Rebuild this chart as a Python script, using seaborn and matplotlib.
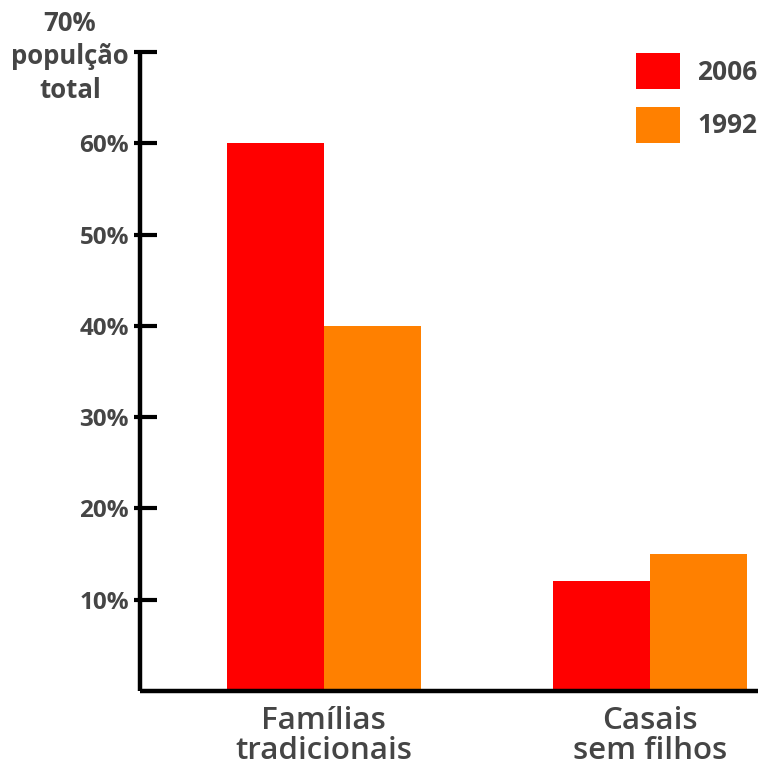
import matplotlib
matplotlib.use("Agg")
import matplotlib.pyplot as plt
import seaborn as sns
import pandas as pd

categories = ["Famílias\ntradicionais", "Casais\nsem filhos"]
years = ["2006", "1992"]
values_2006 = [60, 12]
values_1992 = [40, 15]
ytick_values = [10, 20, 30, 40, 50, 60, 70]
ytick_labels = ["10%", "20%", "30%", "40%", "50%", "60%", ""]
axis_title = "70%\npopulção\ntotal"

palette = {"2006": "#FF0000", "1992": "#FF8000"}
text_color = "#454545"

df = pd.DataFrame({
    "categoria": categories * 2,
    "ano": [years[0]] * len(categories) + [years[1]] * len(categories),
    "valor": values_2006 + values_1992,
})

sns.set_theme(style="white")
plt.rcParams["font.family"] = ["Open Sans", "DejaVu Sans"]

W, H = 760, 765
fig = plt.figure(figsize=(W / 100, H / 100), dpi=100)
ax = fig.add_axes([140 / W, 1 - 691 / H, (758 - 140) / W, (691 - 52) / H])

sns.barplot(data=df, x="categoria", y="valor", hue="ano", order=categories,
            hue_order=years, palette=palette, width=0.595, saturation=1,
            edgecolor="none", linewidth=0, ax=ax)

ax.set_xlim(-0.564, 1.331)
ax.set_ylim(0, 70)
ax.set_xlabel("")
ax.set_ylabel("")

for side in ["top", "right"]:
    ax.spines[side].set_visible(False)
for side in ["left", "bottom"]:
    ax.spines[side].set_linewidth(3.2)
    ax.spines[side].set_color("black")
    ax.spines[side].set_capstyle("butt")

# tick marks reach a little outside the spine and further inside it
ax.set_yticks(ytick_values)
ax.set_yticklabels(ytick_labels)
ax.set_yticks(ytick_values, minor=True)
ax.yaxis.remove_overlapping_locs = False
ax.tick_params(axis="y", which="major", direction="in", length=12.5, width=3,
               color="black", left=True, pad=8, labelsize=17.5,
               labelcolor=text_color)
ax.tick_params(axis="y", which="minor", direction="out", length=4, width=3,
               color="black", left=True, labelleft=False)
for t in ax.get_yticklabels():
    t.set_fontweight("bold")
ax.tick_params(axis="x", length=0, pad=11, labelsize=22.5, labelcolor=text_color)
for t in ax.get_xticklabels():
    t.set_fontweight("semibold")
    t.set_linespacing(1.0)

fig.text(70 / W, 1 - 57 / H, axis_title, ha="center", va="center",
         multialignment="center", fontsize=18.5, fontweight="bold",
         color=text_color, linespacing=1.3)

handles, labels = ax.get_legend_handles_labels()
leg = ax.legend(handles, labels, loc="upper left",
                bbox_to_anchor=(636 / W, 1 - 53 / H), bbox_transform=fig.transFigure,
                frameon=False, borderpad=0, borderaxespad=0,
                handlelength=1.67, handleheight=1.72, handletextpad=0.65,
                labelspacing=0.68, fontsize=19)
for t in leg.get_texts():
    t.set_color(text_color)
    t.set_fontweight("bold")

fig.savefig("out.png", dpi=100)
